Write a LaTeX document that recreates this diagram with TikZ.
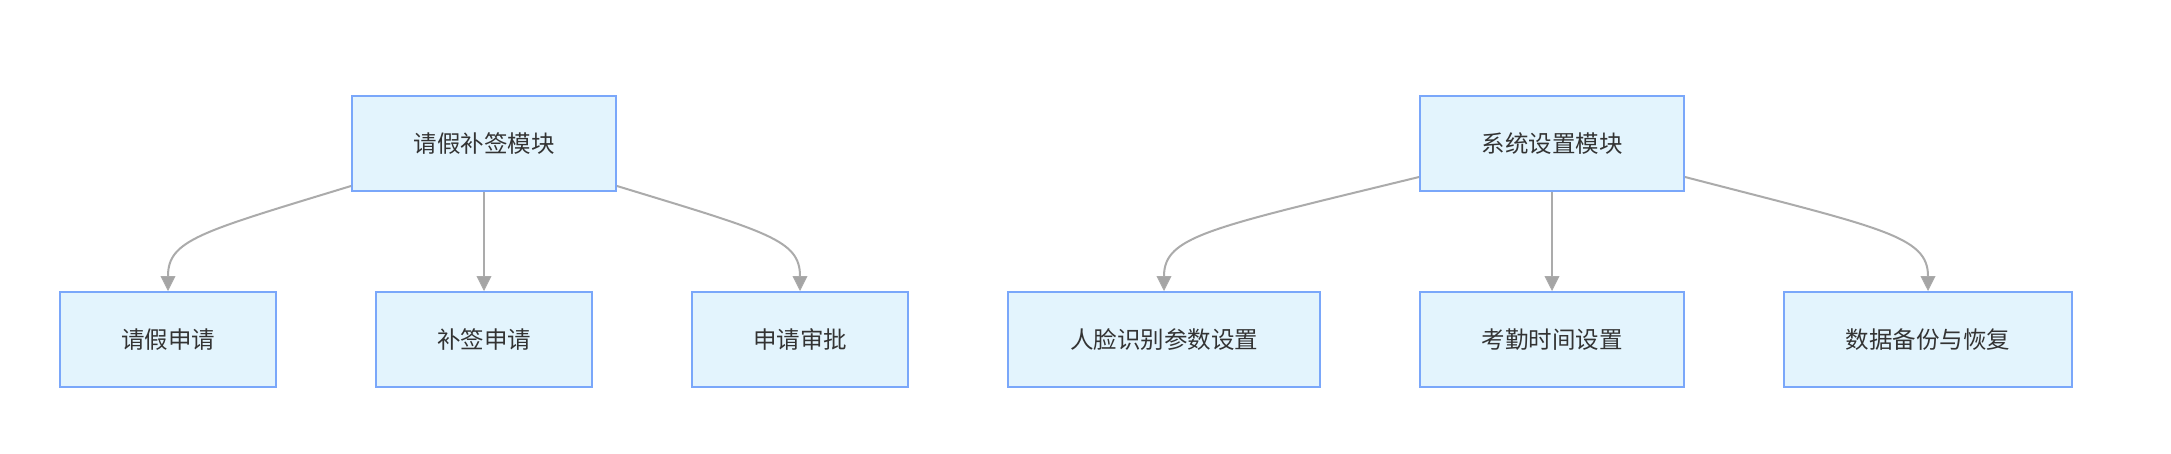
\documentclass[tikz,border=0pt]{standalone}
\usepackage{fontspec}
\newfontfamily\cjk{Noto Sans CJK SC}
\usetikzlibrary{arrows.meta}
\definecolor{boxfill}{HTML}{E3F4FD}
\definecolor{boxline}{HTML}{7AA7FA}
\definecolor{edgeline}{HTML}{ABABAB}
\definecolor{tipfill}{HTML}{A5A5A5}
\definecolor{txt}{HTML}{333333}
\begin{document}
\begin{tikzpicture}[x=1pt,y=-1pt,
  box/.style={draw=boxline, fill=boxfill, line width=2pt, minimum height=95pt,
    inner sep=0pt, text=txt, font=\cjk\fontsize{23.5}{28}\selectfont},
  edge/.style={draw=edgeline, line width=2pt,
    -{Triangle[width=15pt,length=15pt,fill=tipfill,line width=0.8pt]}}]
\path[use as bounding box, fill=white] (0,0) rectangle (2171,453);

\node[box, minimum width=264pt] (m1) at (484,143.5) {请假补签模块};
\node[box, minimum width=216pt] (c1) at (168,339.5) {请假申请};
\node[box, minimum width=216pt] (c2) at (484,339.5) {补签申请};
\node[box, minimum width=216pt] (c3) at (800,339.5) {申请审批};

\node[box, minimum width=264pt] (m2) at (1552,143.5) {系统设置模块};
\node[box, minimum width=312pt] (d1) at (1164,339.5) {人脸识别参数设置};
\node[box, minimum width=264pt] (d2) at (1552,339.5) {考勤时间设置};
\node[box, minimum width=288pt] (d3) at (1928,339.5) {数据备份与恢复};

\coordinate (s1) at ([yshift=6pt]m1.south west);
\coordinate (s3) at ([yshift=6pt]m1.south east);
\coordinate (t1) at ([yshift=15pt]m2.south west);
\coordinate (t3) at ([yshift=15pt]m2.south east);

\draw[edge] (s1) .. controls (200,232) and (168,240) .. (c1.north);
\draw[edge] (m1.south) -- (c2.north);
\draw[edge] (s3) .. controls (768,232) and (800,240) .. (c3.north);

\draw[edge] (t1) .. controls (1210,228) and (1164,236) .. (d1.north);
\draw[edge] (m2.south) -- (d2.north);
\draw[edge] (t3) .. controls (1882,228) and (1928,236) .. (d3.north);
\end{tikzpicture}
\end{document}
